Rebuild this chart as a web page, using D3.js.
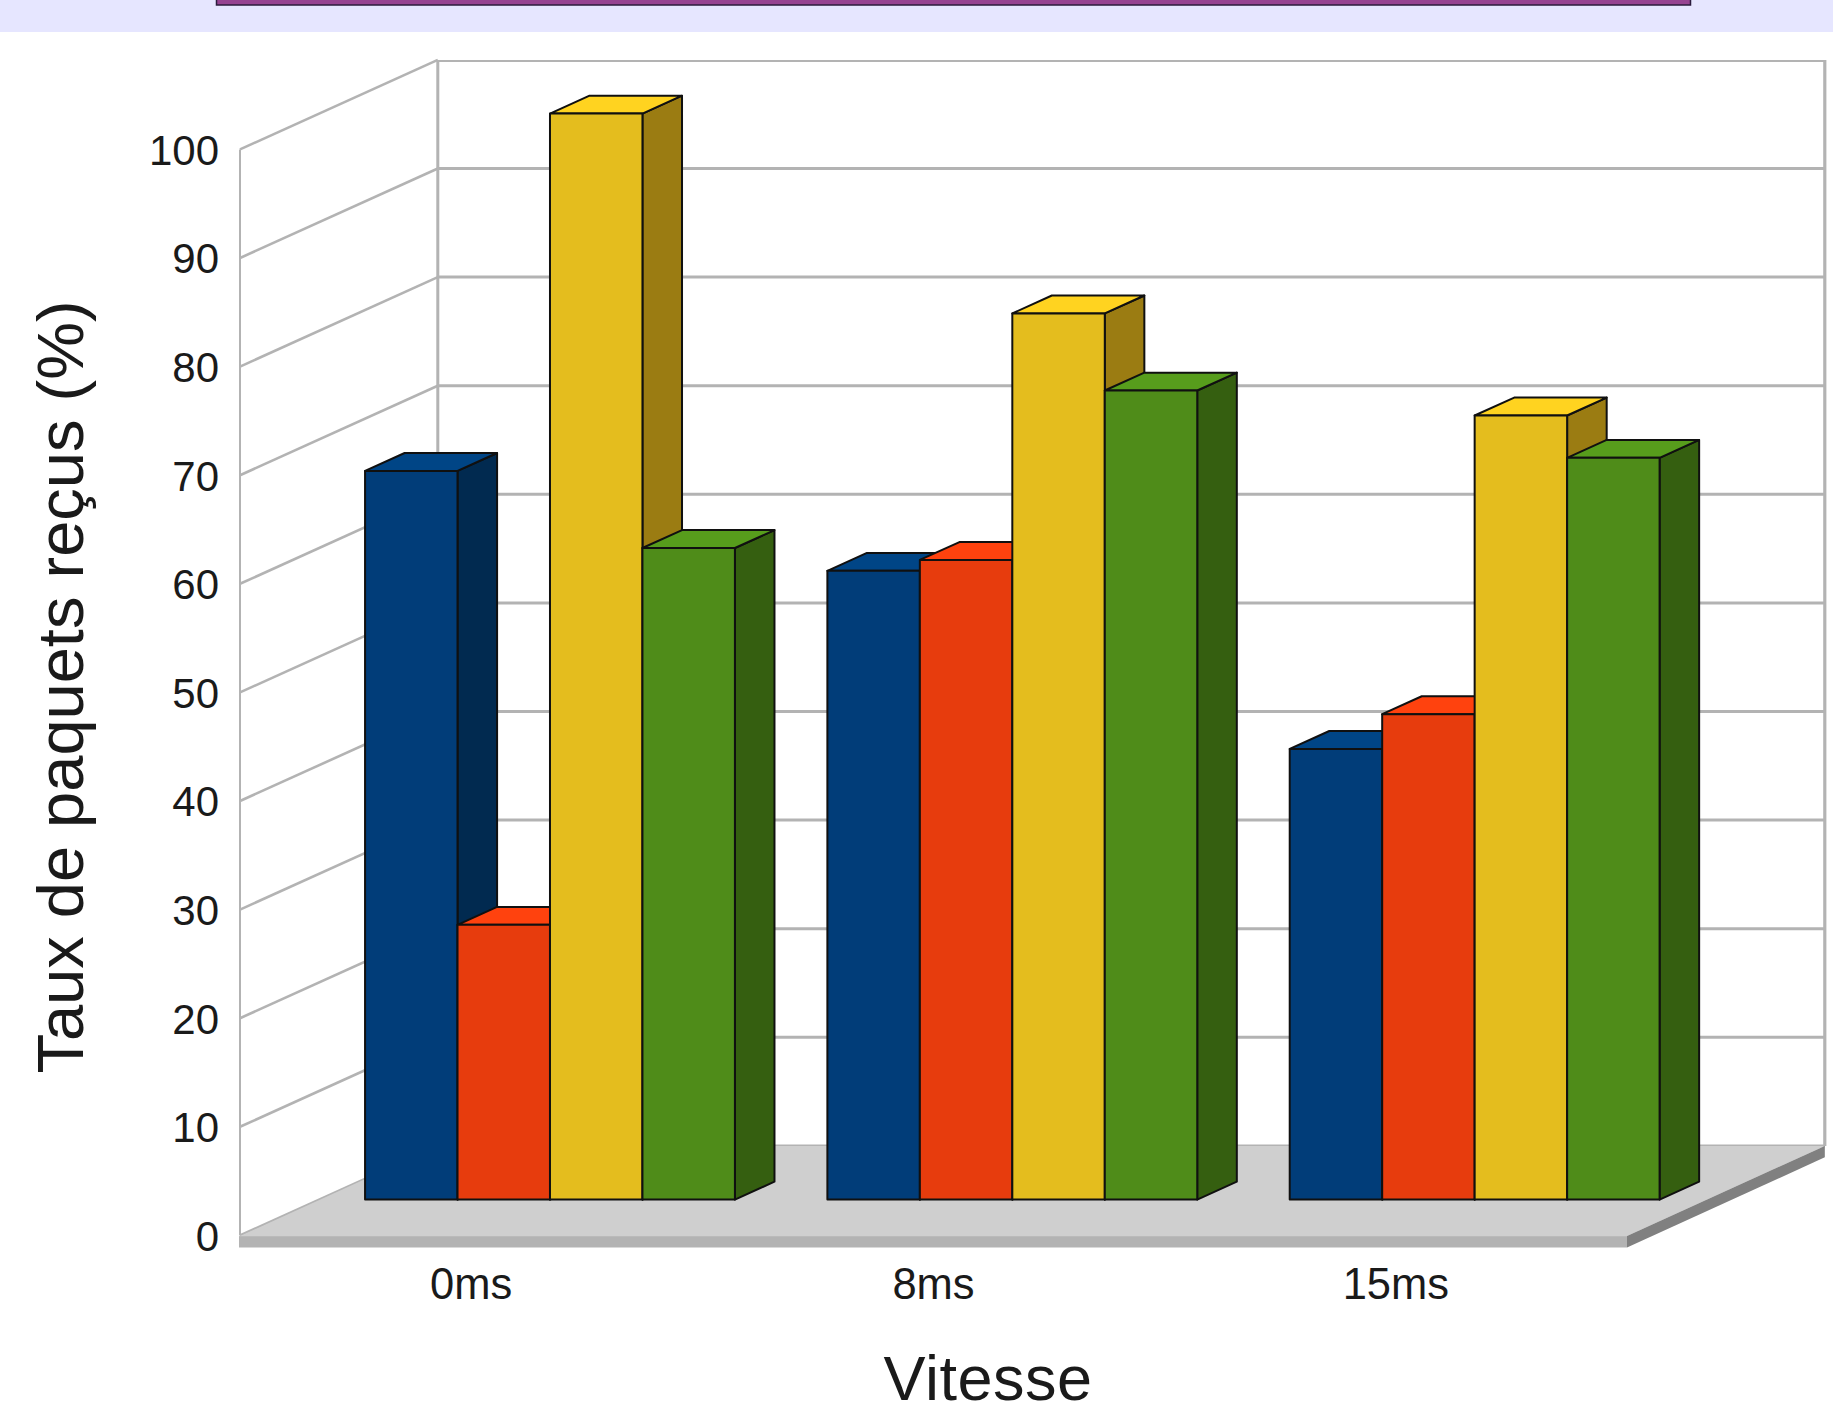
<!DOCTYPE html>
<html>
<head>
<meta charset="utf-8">
<title>Taux de paquets reçus</title>
<script src="https://cdn.jsdelivr.net/npm/d3@7/dist/d3.min.js"></script>
<style>html,body{margin:0;padding:0;background:#fff}svg{display:block}</style>
</head>
<body>
<svg id="chart" width="1833" height="1413"></svg>
<script>
const categories = ["0ms", "8ms", "15ms"];
const seriesA = [67.1, 57.9, 41.5];
const seriesB = [25.3, 58.9, 44.7];
const seriesC = [100, 81.6, 72.2];
const seriesD = [60, 74.5, 68.3];
const valueTicks = [0, 10, 20, 30, 40, 50, 60, 70, 80, 90, 100];
const xTitle = "Vitesse";
const yTitle = "Taux de paquets reçus (%)";
const topColors = ["#004586", "#ff420e", "#ffd320", "#579d1c"];
const frontColors = ["#013d79", "#e73c0d", "#e4bd1e", "#4f8c19"];
const sideColors = ["#012a50", "#9c2d0a", "#9b7c12", "#355f10"];

const series = [seriesA, seriesB, seriesC, seriesD];
const FONT = "'Liberation Sans', Arial, sans-serif";
const svg = d3.select("#chart");

const x = d3.scaleBand().domain(categories).range([240, 1627]);
const y = d3.scaleLinear().domain([0, 100]).range([1235.4, 149.4]);
const dx = d3.scaleLinear().domain([0, 1]).range([0, 197.8]);
const dy = d3.scaleLinear().domain([0, 1]).range([0, -89.5]);
const inner = d3.scaleBand().domain(d3.range(series.length)).range([0, x.bandwidth()]).paddingOuter(0.5);

const pt = (px, py) => px + "," + py;
const GRID = "#b3b3b3";

// header
svg.append("rect").attr("x", 0).attr("y", 0).attr("width", 1833).attr("height", 32).attr("fill", "#e6e6ff");
svg.append("rect").attr("x", 216.5).attr("y", -5).attr("width", 1474).attr("height", 10)
  .attr("fill", "#964391").attr("stroke", "#2b1b3d").attr("stroke-width", 1.5);

// walls
const g = svg.append("g").attr("fill", "none").attr("stroke", GRID);
const x0 = x.range()[0], x1 = x.range()[1];
g.selectAll("line.back").data(valueTicks).join("line").attr("class", "back")
  .attr("x1", x0 + dx(1)).attr("x2", x1 + dx(1))
  .attr("y1", d => d === 100 ? y(d) + dy(1) + 1 : y(d) + dy(1))
  .attr("y2", d => d === 100 ? y(d) + dy(1) + 1 : y(d) + dy(1))
  .attr("stroke-width", d => d === 100 ? 2 : 3);
g.selectAll("line.diag").data(valueTicks).join("line").attr("class", "diag")
  .attr("x1", x0).attr("x2", x0 + dx(1))
  .attr("y1", d => y(d)).attr("y2", d => y(d) + dy(1))
  .attr("stroke-width", 2.6);
g.append("line").attr("x1", x0).attr("x2", x0).attr("y1", y(100)).attr("y2", y(0)).attr("stroke-width", 2);
g.append("line").attr("x1", x0 + dx(1)).attr("x2", x0 + dx(1)).attr("y1", y(100) + dy(1)).attr("y2", y(0) + dy(1)).attr("stroke-width", 3);
g.append("line").attr("x1", x1 + dx(1)).attr("x2", x1 + dx(1)).attr("y1", y(100) + dy(1)).attr("y2", y(0) + dy(1)).attr("stroke-width", 3.2);

// floor
const floorThick = 11.4;
const floorY = y(0) + 0.7;
svg.append("polygon").attr("fill", "#cfcfcf").attr("points", [
  pt(x0, floorY), pt(x1, floorY), pt(x1 + dx(1), y(0) + dy(1)), pt(x0 + dx(1), y(0) + dy(1))].join(" "));
svg.append("rect").attr("x", x0 - 1).attr("y", floorY).attr("width", x1 - x0 + 1).attr("height", floorThick).attr("fill", "#b3b3b3");
svg.append("polygon").attr("fill", "#808080").attr("points", [
  pt(x1, floorY), pt(x1, floorY + floorThick), pt(x1 + dx(1), y(0) + dy(1) + floorThick), pt(x1 + dx(1), y(0) + dy(1))].join(" "));

// bars
const barsFront = 0.4, barsBack = 0.6;
const bars = svg.append("g").attr("stroke", "#101010").attr("stroke-width", 2).attr("stroke-linejoin", "round");
categories.forEach((cat, ci) => {
  series.forEach((vals, si) => {
    const l = x(cat) + dx(barsFront) + inner(si) - 0.3;
    const r = l + inner.bandwidth();
    const sx = dx(barsBack) - dx(barsFront);
    const sy = dy(barsBack) - dy(barsFront);
    const yt = y(vals[ci]) + dy(barsFront);
    const yb = y(0) + dy(barsFront);
    bars.append("polygon").attr("fill", sideColors[si]).attr("points",
      [pt(r, yt), pt(r + sx, yt + sy), pt(r + sx, yb + sy), pt(r, yb)].join(" "));
    bars.append("polygon").attr("fill", topColors[si]).attr("points",
      [pt(l, yt), pt(l + sx, yt + sy), pt(r + sx, yt + sy), pt(r, yt)].join(" "));
    bars.append("polygon").attr("fill", frontColors[si]).attr("points",
      [pt(l, yt), pt(r, yt), pt(r, yb), pt(l, yb)].join(" "));
  });
});

// axes
const yAxis = svg.append("g").attr("transform", "translate(241,1.5)")
  .call(d3.axisLeft(y).tickValues(valueTicks).tickSize(0).tickPadding(22));
const xAxis = svg.append("g").attr("transform", "translate(0,1246.5)")
  .call(d3.axisBottom(x).tickSize(0).tickSizeOuter(0).tickPadding(22));
[yAxis, xAxis].forEach(a => a.select(".domain").remove());
yAxis.selectAll("text").attr("fill", "#1a1a1a").style("font-family", FONT).style("font-size", "42px");
xAxis.selectAll("text").attr("fill", "#1a1a1a").style("font-family", FONT).style("font-size", "43.5px");

// titles
svg.append("text").attr("x", 988).attr("y", 1399.5).attr("text-anchor", "middle")
  .attr("fill", "#1a1a1a").style("font-family", FONT).style("font-size", "63px").style("letter-spacing", "0.5px").text(xTitle);
svg.append("text").attr("transform", "translate(83,687) rotate(-90)").attr("text-anchor", "middle")
  .attr("fill", "#1a1a1a").style("font-family", FONT).style("font-size", "65px").text(yTitle);
</script>
</body>
</html>
